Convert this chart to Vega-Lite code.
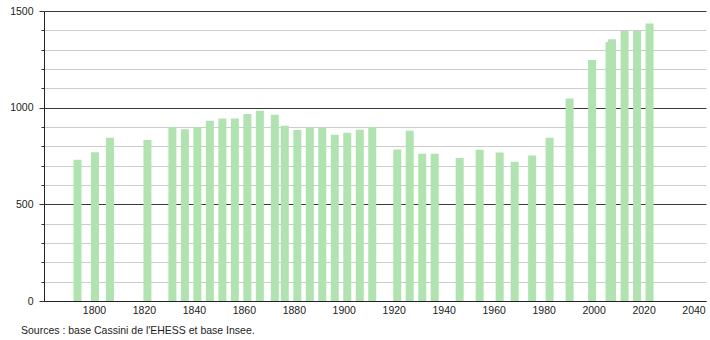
{
  "$schema": "https://vega.github.io/schema/vega-lite/v6.json",
  "width": 662,
  "height": 290,
  "autosize": {"type": "none"},
  "padding": {"left": 44, "top": 11, "right": 4, "bottom": 39},
  "background": "white",
  "config": {
    "view": {"stroke": null},
    "font": "Liberation Sans",
    "axis": {"labelFont": "Liberation Sans", "labelFontSize": 10.5, "labelColor": "#222"}
  },
  "title": {
    "text": "Sources : base Cassini de l'EHESS et base Insee.",
    "orient": "bottom",
    "anchor": "start",
    "frame": "group",
    "dx": -23,
    "offset": 10,
    "fontSize": 10.5,
    "fontWeight": "normal",
    "font": "Liberation Sans",
    "color": "#222"
  },
  "data": {
    "values": [
      {"year": 1793, "pop": 730},
      {"year": 1800, "pop": 770},
      {"year": 1806, "pop": 845},
      {"year": 1821, "pop": 833},
      {"year": 1831, "pop": 900},
      {"year": 1836, "pop": 888},
      {"year": 1841, "pop": 900},
      {"year": 1846, "pop": 932},
      {"year": 1851, "pop": 944},
      {"year": 1856, "pop": 944},
      {"year": 1861, "pop": 967},
      {"year": 1866, "pop": 984},
      {"year": 1872, "pop": 963},
      {"year": 1876, "pop": 906},
      {"year": 1881, "pop": 885},
      {"year": 1886, "pop": 897},
      {"year": 1891, "pop": 897},
      {"year": 1896, "pop": 860},
      {"year": 1901, "pop": 870},
      {"year": 1906, "pop": 886},
      {"year": 1911, "pop": 900},
      {"year": 1921, "pop": 783},
      {"year": 1926, "pop": 881},
      {"year": 1931, "pop": 761},
      {"year": 1936, "pop": 761},
      {"year": 1946, "pop": 740},
      {"year": 1954, "pop": 782},
      {"year": 1962, "pop": 768},
      {"year": 1968, "pop": 720},
      {"year": 1975, "pop": 752},
      {"year": 1982, "pop": 845},
      {"year": 1990, "pop": 1047},
      {"year": 1999, "pop": 1247},
      {"year": 2006, "pop": 1340},
      {"year": 2007, "pop": 1354},
      {"year": 2012, "pop": 1397},
      {"year": 2017, "pop": 1397},
      {"year": 2022, "pop": 1435}
    ]
  },
  "mark": {"type": "bar", "size": 8, "color": "#b0e3b0", "xOffset": 1},
  "encoding": {
    "x": {
      "field": "year",
      "type": "quantitative",
      "scale": {"domain": [1780, 2045], "nice": false, "zero": false, "padding": 0},
      "axis": {
        "title": null,
        "values": [1800, 1820, 1840, 1860, 1880, 1900, 1920, 1940, 1960, 1980, 2000, 2020, 2040],
        "format": "d",
        "ticks": false,
        "labelPadding": 4,
        "grid": false,
        "domainColor": "#222",
        "domainWidth": 1,
        "labelFlush": false,
        "labelOverlap": false
      }
    },
    "y": {
      "field": "pop",
      "type": "quantitative",
      "scale": {"domain": [0, 1500], "nice": false},
      "axis": {
        "title": null,
        "values": [0, 100, 200, 300, 400, 500, 600, 700, 800, 900, 1000, 1100, 1200, 1300, 1400, 1500],
        "labelExpr": "datum.value % 500 === 0 ? datum.label : ''",
        "format": "d",
        "grid": true,
        "gridColor": {"condition": {"test": "datum.value % 500 === 0", "value": "#3a3a3a"}, "value": "#cccccc"},
        "gridWidth": 1,
        "tickColor": "#333",
        "tickSize": {"condition": {"test": "datum.value % 500 === 0", "value": 5}, "value": 3},
        "labelPadding": 6,
        "domainColor": "#222",
        "labelFlush": false,
        "labelOverlap": false
      }
    }
  }
}
